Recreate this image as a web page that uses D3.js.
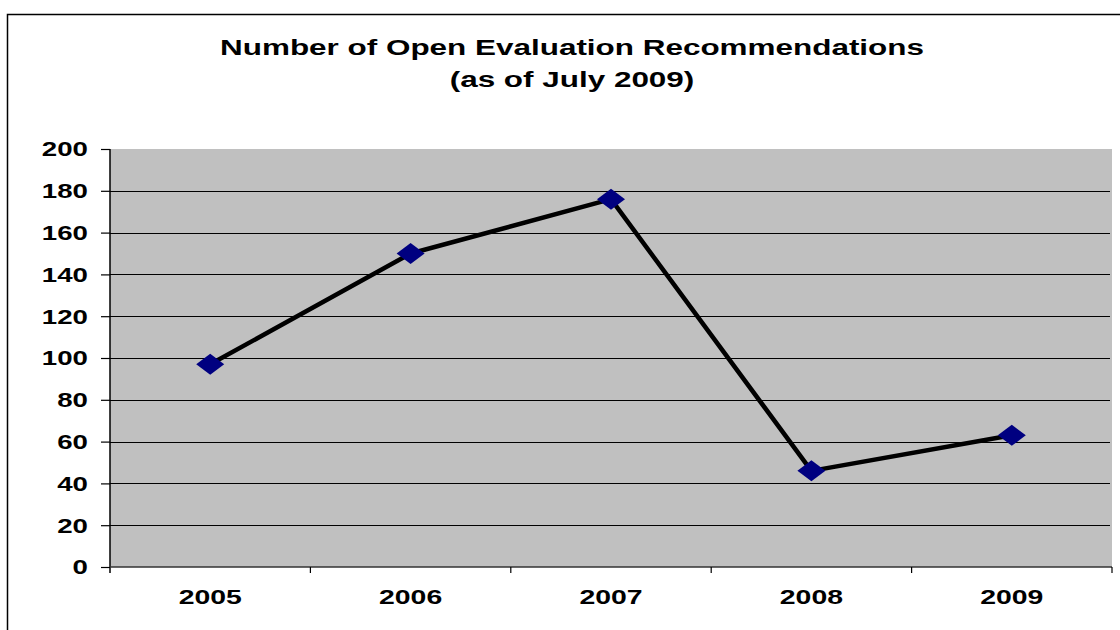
<!DOCTYPE html>
<html>
<head>
<meta charset="utf-8">
<script src="https://cdn.jsdelivr.net/npm/d3@7"></script>
<style>
  body { margin: 0; background: #fff; }
  svg { display: block; font-family: "Liberation Sans", Arial, sans-serif; font-weight: bold; }
</style>
</head>
<body>
<svg id="chart" width="1120" height="630"></svg>
<script>
// chart data
const years = ["2005", "2006", "2007", "2008", "2009"];
const openRecs = [97, 150, 176, 46, 63];
const yTicks = [0, 20, 40, 60, 80, 100, 120, 140, 160, 180, 200];
const titleLines = ["Number of Open Evaluation Recommendations", "(as of July 2009)"];

const data = years.map((y, i) => ({ year: y, value: openRecs[i] }));

const width = 1120, height = 630;
const plot = { left: 110, right: 1112, top: 149, bottom: 567 };
const stretch = 1.42; // text in the source is horizontally wide

const svg = d3.select("#chart");

// outer chart border (runs off the right and bottom edge)
svg.append("rect")
    .attr("x", 7.5).attr("y", 14.5)
    .attr("width", 1130).attr("height", 640)
    .attr("fill", "none").attr("stroke", "#000").attr("stroke-width", 1.5);

// scales
const x = d3.scaleBand().domain(years).range([plot.left, plot.right]);
const y = d3.scaleLinear().domain([0, 200]).range([plot.bottom, plot.top]);

// plot background
svg.append("rect")
    .attr("x", plot.left).attr("y", plot.top)
    .attr("width", plot.right - plot.left).attr("height", plot.bottom - plot.top)
    .attr("fill", "#c0c0c0");

// gridlines
svg.append("g")
    .selectAll("line")
    .data(yTicks.filter(t => t > 0 && t < 200))
    .join("line")
    .attr("x1", plot.left).attr("x2", plot.right - 2)
    .attr("y1", d => Math.round(y(d)) + 0.5).attr("y2", d => Math.round(y(d)) + 0.5)
    .attr("stroke", "#000").attr("stroke-width", 1.2);

// y axis
const yAxis = svg.append("g")
    .attr("transform", `translate(${plot.left},0)`)
    .call(d3.axisLeft(y).tickValues(yTicks).tickSize(9).tickPadding(0).tickFormat(d3.format("d")));
yAxis.select(".domain").remove();
yAxis.selectAll(".tick line").attr("stroke", "#000").attr("stroke-width", 1.2);
yAxis.selectAll(".tick text")
    .attr("x", 0).attr("dy", null)
    .attr("dominant-baseline", "central")
    .attr("transform", `translate(-22,0) scale(${stretch},1)`)
    .style("font-size", "19.5px").style("font-weight", "bold")
    .attr("fill", "#000");
svg.append("line")
    .attr("x1", plot.left).attr("x2", plot.left)
    .attr("y1", plot.top).attr("y2", plot.bottom + 6)
    .attr("stroke", "#000").attr("stroke-width", 1.5);

// x axis
svg.append("line")
    .attr("x1", plot.left).attr("x2", plot.right)
    .attr("y1", plot.bottom).attr("y2", plot.bottom)
    .attr("stroke", "#333").attr("stroke-width", 1.5);
const edges = years.map(d => x(d)).concat([x(years[years.length - 1]) + x.bandwidth()]);
svg.append("g")
    .selectAll("line")
    .data(edges.slice(1))
    .join("line")
    .attr("x1", d => d).attr("x2", d => d)
    .attr("y1", plot.bottom).attr("y2", plot.bottom + 6)
    .attr("stroke", "#000").attr("stroke-width", 1.2);
svg.append("g")
    .selectAll("text")
    .data(years)
    .join("text")
    .attr("text-anchor", "middle")
    .attr("transform", d => `translate(${x(d) + x.bandwidth() / 2},604) scale(${stretch},1)`)
    .style("font-size", "20px")
    .text(d => d);

// line + markers
const line = d3.line()
    .x(d => x(d.year) + x.bandwidth() / 2)
    .y(d => y(d.value));

svg.append("path")
    .datum(data)
    .attr("d", line)
    .attr("fill", "none")
    .attr("stroke", "#000")
    .attr("stroke-width", 4.5)
    .attr("stroke-linejoin", "round");

svg.append("g")
    .selectAll("path")
    .data(data)
    .join("path")
    .attr("transform", d => `translate(${x(d.year) + x.bandwidth() / 2},${y(d.value)})`)
    .attr("d", "M-14,0L0,-10.5L14,0L0,10.5Z")
    .attr("fill", "#000080");

// title
const title = svg.append("g");
titleLines.forEach((t, i) => {
    title.append("text")
        .attr("text-anchor", "middle")
        .attr("transform", `translate(572,${55 + i * 32}) scale(1.43,1)`)
        .style("font-size", "22px")
        .text(t);
});
</script>
</body>
</html>
